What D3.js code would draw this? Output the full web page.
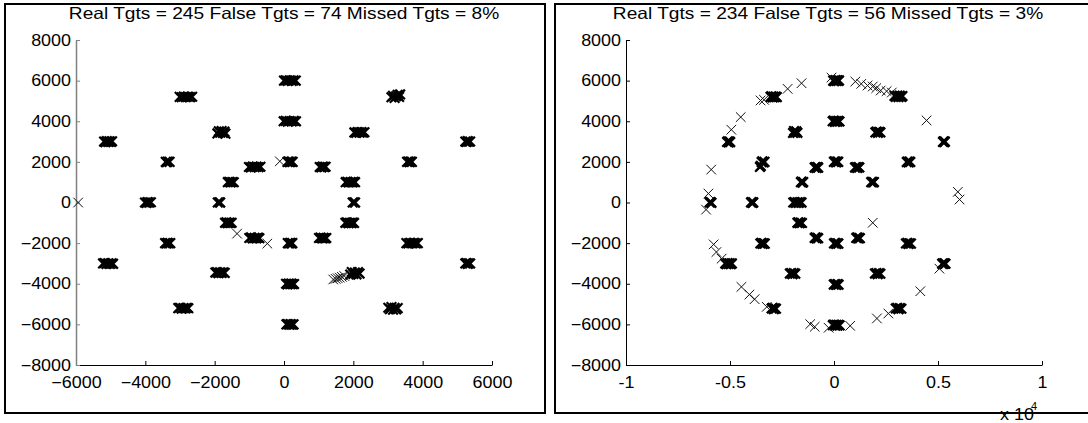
<!DOCTYPE html>
<html>
<head>
<meta charset="utf-8">
<script src="https://cdn.jsdelivr.net/npm/d3@7"></script>
<style>
  body { margin: 0; background: #fff; }
  svg { display: block; }
  text { font-family: "Liberation Sans", Arial, sans-serif; fill: #000; }
</style>
</head>
<body>
<svg id="chart" width="1088" height="423"></svg>
<script>
// ---- tick values ----
const yTicks = [-8000, -6000, -4000, -2000, 0, 2000, 4000, 6000, 8000];
const xTicksLeft = [-6000, -4000, -2000, 0, 2000, 4000, 6000];
const xTicksRight = [-10000, -5000, 0, 5000, 10000];
const xTickLabelsRight = ["-1", "-0.5", "0", "0.5", "1"];

// ---- summary statistics shown in each title ----
const realTgts = [245, 234];
const falseTgts = [74, 56];
const missedPct = [8, 3];

// ---- left panel: detections on tracked targets (x, y) ----
const leftTracked = [
  [0,6000],[55,6015],[110,5985],[170,6020],[225,5990],[280,6010],[340,6000],
  [-10,4000],[50,4020],[110,3985],[165,4010],[225,3990],[285,4015],[345,3995],
  [100,2000],[135,2020],[170,1985],[210,2010],[250,2000],
  [-3010,5200],[-2950,5180],[-2890,5215],[-2830,5190],[-2770,5210],[-2710,5185],[-2650,5205],
  [3100,5180],[3145,5250],[3190,5150],[3235,5230],[3280,5300],[3320,5200],[3350,5320],
  [-5190,3000],[-5150,2970],[-5110,3020],[-5070,2985],[-5030,3010],[-4990,2980],[-4960,3015],
  [5230,3000],[5265,2980],[5300,3020],[5335,2990],[5370,3005],
  [-1920,3400],[-1880,3510],[-1840,3440],[-1800,3520],[-1760,3420],[-1720,3490],[-1690,3390],
  [2030,3450],[2080,3430],[2130,3470],[2180,3440],[2230,3465],[2280,3435],[2320,3460],
  [-3410,2000],[-3380,1980],[-3350,2020],[-3300,2000],
  [3550,2000],[3585,2020],[3620,1985],[3655,2010],[3690,2000],
  [-1620,1000],[-1580,1020],[-1540,985],[-1495,1010],[-1450,995],
  [1780,1000],[1825,1020],[1870,985],[1920,1010],[1965,990],[2010,1015],[2050,1000],
  [-1010,1750],[-955,1730],[-900,1770],[-845,1740],[-790,1765],[-735,1735],[-680,1760],
  [1030,1750],[1075,1730],[1120,1770],[1160,1745],[1200,1760],
  [-4010,0],[-3970,-20],[-3930,15],[-3890,-5],[-3840,10],
  [-1910,0],[-1870,10],[-1840,-5],
  [1980,0],[2020,10],[2050,-5],
  [-1700,-1000],[-1660,-980],[-1620,-1020],[-1580,-990],[-1540,-1010],[-1510,-995],
  [-1000,-1750],[-950,-1720],[-900,-1770],[-850,-1740],[-800,-1765],[-750,-1730],[-710,-1760],
  [110,-2000],[145,-2020],[180,-1985],[215,-2010],[240,-2000],
  [1010,-1750],[1055,-1730],[1100,-1770],[1140,-1740],[1185,-1765],[1220,-1750],
  [1770,-1000],[1815,-980],[1860,-1020],[1900,-995],[1945,-1015],[1985,-985],[2020,-1005],
  [-3430,-2000],[-3395,-2020],[-3360,-1985],[-3320,-2010],[-3280,-2000],
  [3530,-2000],[3585,-2020],[3640,-1985],[3695,-2010],[3750,-1990],[3805,-2015],[3860,-2000],
  [-5220,-3000],[-5170,-2980],[-5120,-3030],[-5070,-2995],[-5020,-3025],[-4970,-2990],[-4930,-3020],
  [5230,-3000],[5265,-2980],[5300,-3020],[5335,-2995],[5370,-3005],
  [-1980,-3450],[-1935,-3430],[-1890,-3480],[-1845,-3440],[-1800,-3470],[-1755,-3435],[-1710,-3465],
  [1910,-3550],[1955,-3420],[2000,-3520],[2045,-3450],[2090,-3540],[2135,-3430],[2180,-3500],
  [60,-4000],[100,-4030],[140,-3990],[180,-4020],[215,-3995],[255,-4025],[290,-4010],
  [-3050,-5200],[-3000,-5180],[-2950,-5230],[-2900,-5195],[-2850,-5220],[-2800,-5185],[-2760,-5205],
  [3010,-5180],[3055,-5250],[3100,-5150],[3145,-5280],[3190,-5190],[3235,-5260],[3280,-5200],
  [70,-6000],[110,-5980],[150,-6020],[190,-5990],[230,-6015],[275,-6000]
];

// ---- left panel: isolated (false) detections ----
const leftFalse = [
  [-5938,0],[-120,2029],[-1354,-1533],[-481,-2022],
  [1420,-3790],[1490,-3760],[1550,-3730],[1610,-3700],[1670,-3660],[1740,-3620]
];

// ---- right panel: detections on tracked targets ----
const rightTracked = [
  [-40,6000],[10,5970],[60,6030],[110,5990],[160,6020],[205,5985],[240,6010],
  [-65,4000],[-10,4030],[45,3970],[100,4010],[155,3980],[210,4020],[265,3990],
  [-5,2000],[45,2030],[100,1975],[150,2015],[205,2000],
  [-3050,5200],[-3000,5230],[-2950,5170],[-2900,5210],[-2850,5180],[-2800,5220],[-2750,5190],
  [2910,5250],[2975,5200],[3040,5270],[3100,5190],[3165,5260],[3230,5200],[3290,5240],
  [-5140,2980],[-5100,3010],[-5065,2960],[-5030,3000],[-4990,2975],
  [5240,2980],[5270,3010],[5300,2970],[5330,3000],
  [-1970,3420],[-1920,3520],[-1870,3440],[-1815,3510],[-1760,3430],
  [1990,3450],[2050,3490],[2110,3430],[2170,3480],[2230,3450],
  [-3480,1990],[-3440,2030],[-3400,1970],[-3340,2000],[-3560,1750],[-3520,1800],
  [3500,1990],[3545,2020],[3590,1975],[3630,2010],[3670,1995],
  [-1590,1000],[-1555,1025],[-1520,980],[-1480,1005],
  [1790,1000],[1830,1020],[1875,985],[1920,1005],
  [-930,1720],[-885,1750],[-840,1700],[-800,1740],[-760,1715],
  [1010,1720],[1060,1750],[1115,1700],[1165,1745],[1220,1725],
  [-3990,0],[-3955,25],[-3920,-20],[-3880,5],
  [-1960,0],[-1895,20],[-1830,-25],[-1760,10],[-1695,-15],[-1630,15],[-1560,-5],
  [-5980,0],[-5940,20],[-5890,-15],
  [-1760,-1000],[-1710,-970],[-1660,-1020],[-1600,-990],[-1540,-1010],
  [-930,-1750],[-885,-1720],[-840,-1770],[-800,-1740],[-760,-1760],
  [0,-2020],[50,-1990],[105,-2040],[155,-2005],[210,-2025],
  [1070,-1750],[1115,-1720],[1160,-1770],[1205,-1740],[1245,-1760],
  [-3540,-2020],[-3490,-1990],[-3435,-2040],[-3385,-2005],[-3330,-2025],
  [3460,-2020],[3520,-1990],[3580,-2040],[3640,-2005],[3700,-2025],
  [-5230,-3000],[-5175,-3040],[-5120,-2980],[-5070,-3030],[-5015,-2990],[-4960,-3035],[-4910,-3000],
  [5200,-3020],[5240,-2990],[5280,-3030],[5320,-3000],[5360,-3015],
  [-2120,-3500],[-2060,-3470],[-2000,-3530],[-1930,-3480],[-1860,-3510],
  [1970,-3500],[2035,-3470],[2100,-3530],[2165,-3480],[2230,-3510],
  [-10,-4040],[50,-4010],[105,-4060],[165,-4020],[220,-4045],
  [-3000,-5220],[-2950,-5190],[-2895,-5250],[-2840,-5205],[-2790,-5230],
  [2970,-5220],[3035,-5190],[3100,-5250],[3170,-5200],[3240,-5230],
  [-55,-6040],[0,-6010],[55,-6070],[110,-6025],[165,-6060],[220,-6020],[270,-6050]
];

// ---- right panel: isolated (false) detections ----
const rightFalse = [
  [-5903,1620],[-6037,442],[-6150,-350],[-4935,3583],[-4484,4205],
  [-3532,5023],[-3365,5055],[-2229,5595],[-1561,5873],[-120,6150],
  [1027,5955],[1311,5841],[1612,5759],[1862,5710],[2029,5628],
  [2246,5513],[2530,5481],[2780,5415],[4450,4041],[5953,524],[6037,147],
  [-5787,-2061],[-5653,-2438],[-5403,-2765],[-4451,-4155],[-4067,-4531],
  [-3817,-4760],[-3232,-5137],[-1144,-5988],[-927,-6119],[-259,-6168],
  [777,-6070],[2063,-5709],[2614,-5464],[4150,-4368],[5068,-3256],[1862,-998]
];

const svg = d3.select("#chart");

// widen glyphs a little so labels match the figure's proportions
function stretch(sel, k) {
  sel.each(function () {
    const w = this.getComputedTextLength();
    d3.select(this).attr("textLength", w * k).attr("lengthAdjust", "spacingAndGlyphs");
  });
}

const markerPath = "M-4.8,-4.8L4.8,4.8M-4.8,4.8L4.8,-4.8";

function drawMarkers(g, pts, x, y, width, color) {
  g.append("g").selectAll("path")
    .data(pts)
    .join("path")
    .attr("d", markerPath)
    .attr("transform", d => `translate(${x(d[0])},${y(d[1])})`)
    .attr("fill", "none").attr("stroke", color).attr("stroke-width", width);
}

function drawPanel(cfg) {
  const g = svg.append("g");

  // figure frame
  g.append("rect")
    .attr("x", cfg.frame[0]).attr("y", cfg.frame[1])
    .attr("width", cfg.frame[2] - cfg.frame[0])
    .attr("height", cfg.frame[3] - cfg.frame[1])
    .attr("fill", "none").attr("stroke", "#000").attr("stroke-width", 2);

  const x = d3.scaleLinear().domain(cfg.xDomain).range(cfg.xRange);
  const y = d3.scaleLinear().domain([-8000, 8000]).range([365, 40]);

  // x axis
  const xAxis = d3.axisBottom(x)
    .tickValues(cfg.xTicks)
    .tickFormat((d, i) => cfg.xLabels ? cfg.xLabels[i] : d3.format("d")(d))
    .tickSizeInner(-4).tickSizeOuter(0).tickPadding(12);
  const xg = g.append("g").attr("transform", `translate(0,${y(-8000)})`).call(xAxis);
  xg.select(".domain").attr("stroke", "#000").attr("stroke-width", 1);
  xg.selectAll(".tick line").attr("stroke", "#000");
  xg.selectAll(".tick text").attr("font-size", 16).attr("font-family", null).attr("fill", "#000");
  stretch(xg.selectAll(".tick text"), 1.12);

  // y axis
  const yAxis = d3.axisLeft(y)
    .tickValues(yTicks)
    .tickFormat(d3.format("d"))
    .tickSizeInner(-4).tickSizeOuter(0).tickPadding(5);
  const yg = g.append("g").attr("transform", `translate(${cfg.xRange[0]},0)`).call(yAxis);
  yg.select(".domain").attr("stroke", cfg.yAxisColor).attr("stroke-width", cfg.yAxisWidth);
  yg.selectAll(".tick line").attr("stroke", cfg.yAxisColor);
  yg.selectAll(".tick text").attr("font-size", 16).attr("font-family", null).attr("fill", "#000");
  stretch(yg.selectAll(".tick text"), 1.12);

  // title
  const t = g.append("text")
    .attr("x", cfg.titleX).attr("y", 19)
    .attr("text-anchor", "middle").attr("font-size", 16.5)
    .text(`Real Tgts = ${cfg.real} False Tgts = ${cfg.fals} Missed Tgts = ${cfg.missed}%`);
  stretch(t, 1.16);

  // detections: tracked targets overlap into heavy crosses, false ones stay thin
  drawMarkers(g, cfg.tracked, x, y, 2.2, "#000");
  drawMarkers(g, cfg.falseDet, x, y, 1, "#111");

  return { x, y, g };
}

drawPanel({
  frame: [5, 4, 545, 413],
  xDomain: [-6000, 6000], xRange: [76, 492],
  xTicks: xTicksLeft, xLabels: null,
  yAxisColor: "#808080", yAxisWidth: 1.5,
  titleX: 284,
  real: realTgts[0], fals: falseTgts[0], missed: missedPct[0],
  tracked: leftTracked, falseDet: leftFalse
});

const right = drawPanel({
  frame: [555, 4, 1096, 413],
  xDomain: [-10000, 10000], xRange: [626, 1042],
  xTicks: xTicksRight, xLabels: xTickLabelsRight,
  yAxisColor: "#000", yAxisWidth: 1,
  titleX: 828,
  real: realTgts[1], fals: falseTgts[1], missed: missedPct[1],
  tracked: rightTracked, falseDet: rightFalse
});

// axis exponent for the right panel
const ex = right.g.append("text").attr("x", 1000).attr("y", 419.5).attr("font-size", 16).text("x 10");
stretch(ex, 1.12);
right.g.append("text").attr("x", 1031).attr("y", 410).attr("font-size", 11).text("4");
</script>
</body>
</html>
